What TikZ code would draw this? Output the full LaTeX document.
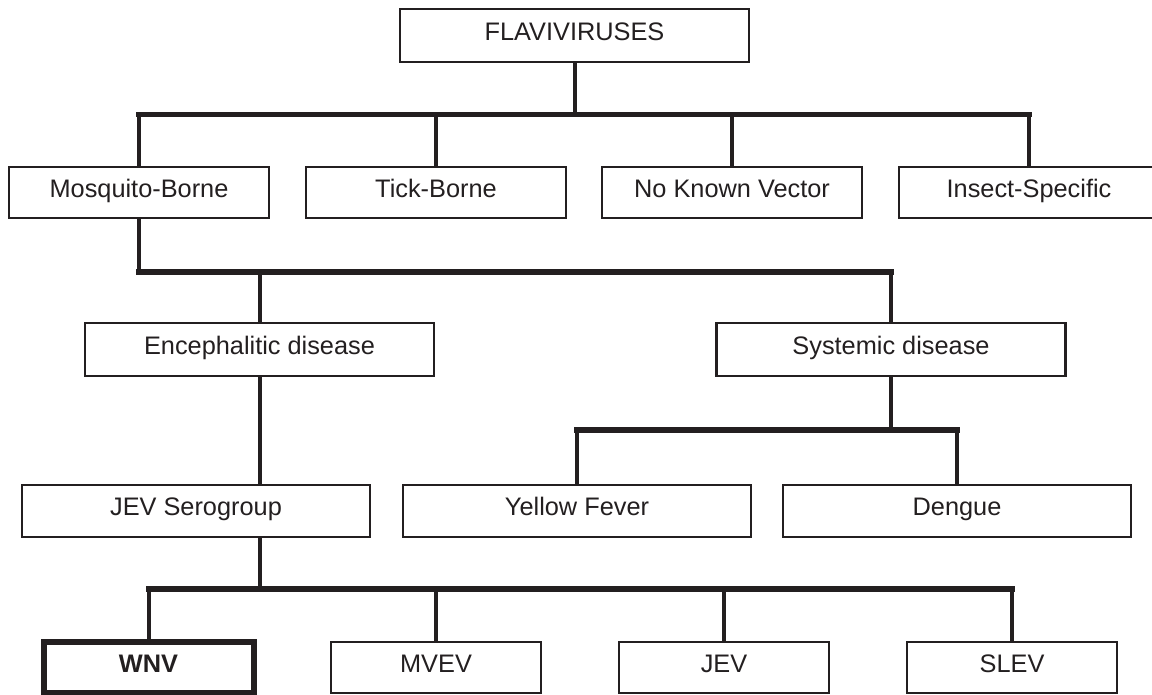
\documentclass[tikz,border=0pt]{standalone}
\usepackage{fontspec}
\setmainfont{Liberation Sans}
\definecolor{ink}{RGB}{35,31,32}
\begin{document}
\begin{tikzpicture}[x=0.75pt,y=-0.75pt,
  box/.style={draw=ink,line width=1.6pt,fill=white,inner sep=0pt,text=ink,
    font=\fontsize{19}{22}\selectfont,text height=0.72em,text depth=0pt},
  flavbox/.style={box,minimum width=261.75pt,minimum height=39.75pt},
  l1box/.style={box,minimum width=195pt,minimum height=38.25pt},
  l2box/.style={box,minimum width=261.75pt,minimum height=39.75pt},
  l3box/.style={box,minimum width=261pt,minimum height=39pt},
  l4box/.style={box,minimum width=157.5pt,minimum height=38.25pt},
  conn/.style={draw=ink,line width=3pt},
  bar/.style={draw=ink,line width=3.8pt,line cap=rect}]
\clip (0,0) rectangle (1152,695);
\fill[white] (0,0) rectangle (1152,695);
% nodes
\node[flavbox] (flav) at (574.5,35.5) {FLAVIVIRUSES};
\node[l1box] (mos) at (139,192.5) {Mosquito-Borne};
\node[l1box] (tick) at (436,192.5) {Tick-Borne};
\node[l1box] (nkv) at (732,192.5) {No Known Vector};
\node[l1box] (ins) at (1029,192.5) {Insect-Specific};
\node[l2box] (enc) at (259.5,349.5) {Encephalitic disease};
\node[l2box] (sys) at (891,349.5) {Systemic disease};
\node[l3box] (jevs) at (196,511) {JEV Serogroup};
\node[l3box] (yf) at (577,511) {Yellow Fever};
\node[l3box] (den) at (957,511) {Dengue};
\node[l4box,line width=4.5pt,font=\fontsize{19}{22}\selectfont\bfseries] (wnv) at (148.5,667.5) {WNV};
\node[l4box] (mvev) at (436,667.5) {MVEV};
\node[l4box] (jev) at (724,667.5) {JEV};
\node[l4box] (slev) at (1012,667.5) {SLEV};
% junction coordinates
\coordinate (b1) at (574.5,114.5);
\coordinate (b2) at (139,272);
\coordinate (b3) at (891,430);
\coordinate (b4) at (259.5,589);
% level 1
\draw[conn] (flav.south) -- (b1);
\draw[bar] (mos.north |- b1) -- (ins.north |- b1);
\foreach \n in {mos,tick,nkv,ins}{\draw[conn] (\n.north) -- (\n.north |- b1);}
% level 2
\draw[conn] (mos.south) -- (b2);
\draw[bar] (b2) -- (sys.north |- b2);
\draw[conn] (enc.north) -- (enc.north |- b2);
\draw[conn] (sys.north) -- (sys.north |- b2);
% encephalitic -> JEV serogroup
\draw[conn] (enc.south) -- (enc.south |- jevs.north);
% systemic -> YF, Dengue
\draw[conn] (sys.south) -- (b3);
\draw[bar] (yf.north |- b3) -- (den.north |- b3);
\draw[conn] (yf.north) -- (yf.north |- b3);
\draw[conn] (den.north) -- (den.north |- b3);
% JEV serogroup -> level 4
\draw[conn] (jevs.south -| b4) -- (b4);
\draw[bar] (wnv.north |- b4) -- (slev.north |- b4);
\foreach \n in {wnv,mvev,jev,slev}{\draw[conn] (\n.north) -- (\n.north |- b4);}
\end{tikzpicture}
\end{document}
